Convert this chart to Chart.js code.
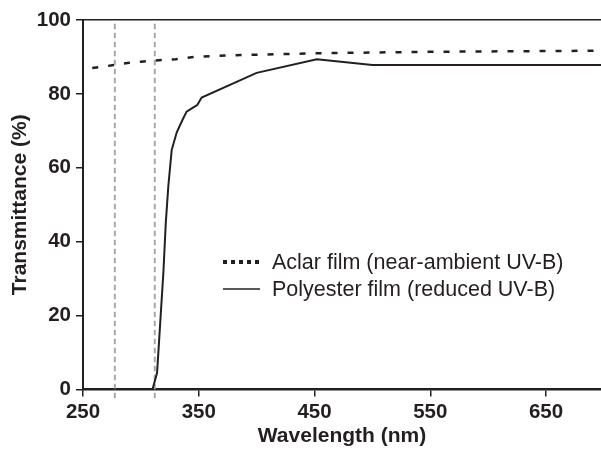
<!DOCTYPE html>
<html>
<head>
<meta charset="utf-8">
<script src="https://cdn.jsdelivr.net/npm/chart.js@4.4.1/dist/chart.umd.min.js"></script>
<style>
  html, body { margin: 0; padding: 0; background: #fff; }
  #wrap { width: 601px; height: 449px; position: relative; }
</style>
</head>
<body>
<div id="wrap"><canvas id="chart"></canvas></div>
<script>
// ─── Data (wavelength in nm, transmittance in %) ─────────────────────────────

const aclarWl = [258, 270, 280, 290, 300, 310, 320, 330, 340, 350, 375, 400, 450, 500, 550, 600, 650, 700];
const aclarT  = [87.0, 87.5, 88.0, 88.4, 88.7, 89.0, 89.2, 89.4, 89.8, 90.1, 90.4, 90.6, 91.0, 91.2, 91.4, 91.5, 91.6, 91.7];

const polyWl = [258, 310, 314, 319.5, 321.5, 323.7, 326.6, 331, 336, 339.5, 345, 348.7, 352.5, 400, 452, 500, 700];
const polyT  = [0, 0, 4.5, 32, 45, 55, 64.8, 69.6, 73, 75.2, 76.3, 77, 79, 85.7, 89.4, 87.8, 87.8];

// UV-B band edges marked by grey dashed lines
const uvbBounds = [277.5, 312];
const uvbSpan   = [-2.4, 100];

const xTicks = [250, 350, 450, 550, 650];
const yTicks = [0, 20, 40, 60, 80, 100];

const labels = ['Aclar film (near-ambient UV-B)', 'Polyester film (reduced UV-B)'];

// ─── Style ───────────────────────────────────────────────────────────────────

const INK  = '#231f20';
const GREY = '#a6a8ab';
const FONT = "'Liberation Sans', Arial, Helvetica, sans-serif";

const toPoints = (xs, ys) => xs.map((x, i) => ({ x, y: ys[i] }));

const bandSets = uvbBounds.map((wl) => ({
  label: '',
  data: toPoints([wl, wl], uvbSpan),
  borderColor: GREY,
  borderWidth: 2,
  borderDash: [5.5, 3.5],
  pointRadius: 0,
  clip: false,
  inLegend: false,
}));

// ─── Inset legend ────────────────────────────────────────────────────────────

const insetLegend = {
  id: 'insetLegend',
  afterDatasetsDraw(chart) {
    const { ctx, chartArea } = chart;
    const x0 = chartArea.left + 140;
    let y = chartArea.top + 242;
    ctx.save();
    ctx.font = `21.5px ${FONT}`;
    ctx.fillStyle = INK;
    ctx.textBaseline = 'middle';
    chart.data.datasets.filter((d) => d.inLegend).forEach((d) => {
      ctx.beginPath();
      ctx.strokeStyle = INK;
      ctx.lineWidth = d.legendWidth;
      ctx.setLineDash(d.legendDash);
      ctx.moveTo(x0, y);
      ctx.lineTo(x0 + 37, y);
      ctx.stroke();
      ctx.setLineDash([]);
      ctx.fillText(d.label, x0 + 49, y + 1);
      y += 27;
    });
    ctx.restore();
  },
};

// ─── Chart ───────────────────────────────────────────────────────────────────

new Chart(document.getElementById('chart'), {
  type: 'line',
  data: {
    datasets: [
      {
        label: labels[0],
        data: toPoints(aclarWl, aclarT),
        borderColor: INK,
        borderWidth: 2.5,
        borderDash: [6, 10],
        pointRadius: 0,
        inLegend: true,
        legendDash: [4, 4],
        legendWidth: 4,
      },
      {
        label: labels[1],
        data: toPoints(polyWl, polyT),
        borderColor: INK,
        borderWidth: 2,
        pointRadius: 0,
        inLegend: true,
        legendDash: [],
        legendWidth: 1.4,
      },
      ...bandSets,
    ],
  },
  options: {
    responsive: true,
    maintainAspectRatio: false,
    animation: false,
    layout: { padding: { top: 20, right: 0, left: 0, bottom: 0 } },
    plugins: {
      legend: { display: false },
      tooltip: { enabled: false },
    },
    scales: {
      x: {
        type: 'linear',
        min: 250,
        max: 697.5,
        afterBuildTicks: (s) => { s.ticks = xTicks.map((v) => ({ value: v })); },
        afterFit: (s) => { s.height = 59.5; },
        border: { color: INK, width: 2.5 },
        grid: { drawOnChartArea: false, tickLength: 7, tickColor: INK, lineWidth: 1.5 },
        ticks: { color: INK, padding: 4, font: { family: FONT, size: 20.5, weight: 'bold' } },
        title: {
          display: true,
          text: 'Wavelength (nm)',
          color: INK,
          padding: { top: 0, bottom: 0 },
          font: { family: FONT, size: 21, weight: 'bold', lineHeight: 1.2 },
        },
      },
      y: {
        min: 0,
        max: 100,
        afterBuildTicks: (s) => { s.ticks = yTicks.map((v) => ({ value: v })); },
        afterFit: (s) => { s.width = 83; },
        border: { color: INK, width: 2 },
        grid: {
          color: (c) => (c.tick && c.tick.value === 100 ? INK : 'rgba(0,0,0,0)'),
          tickColor: INK,
          tickLength: 7,
          lineWidth: 1.5,
        },
        ticks: { color: INK, padding: 5, font: { family: FONT, size: 20.5, weight: 'bold' } },
        title: {
          display: true,
          text: 'Transmittance (%)',
          color: INK,
          padding: { top: 8, bottom: 0 },
          font: { family: FONT, size: 21, weight: 'bold', lineHeight: 1.2 },
        },
      },
    },
  },
  plugins: [insetLegend],
});
</script>
</body>
</html>
